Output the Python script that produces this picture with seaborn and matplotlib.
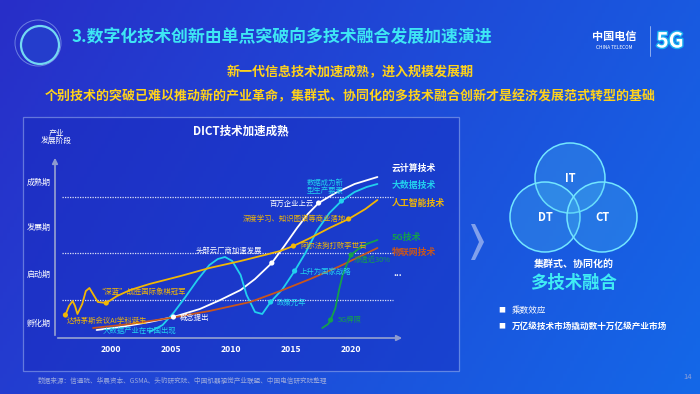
import numpy as np
import pandas as pd
import matplotlib
matplotlib.use("Agg")
import matplotlib.pyplot as plt
import matplotlib.patheffects as pe
import seaborn as sns
from matplotlib.patches import Rectangle, Circle, Polygon

sns.set_style("white")
plt.rcParams["font.family"] = ["Noto Sans CJK SC", "DejaVu Sans"]

# axis data
years = [2000, 2005, 2010, 2015, 2020]
stages = ["孵化期", "启动期", "发展期", "成熟期"]
stage_pos = [1.6, 6.5, 11.2, 15.7]
stage_lines = [3.8, 8.5, 14.1]

# curves (year, development level)
cloud_x = [1998.8, 2000.8, 2003.2, 2005.2, 2007.4, 2009.1, 2010.8, 2012.0, 2013.4, 2014.5, 2015.5, 2016.4, 2017.3, 2018.7, 2020.3, 2022.2]
cloud_y = [0.8, 1.1, 1.6, 2.1, 2.9, 3.8, 4.8, 5.9, 7.5, 9.3, 11.0, 12.4, 13.5, 14.5, 15.4, 16.1]

bigdata_x = [2003.2, 2004.3, 2005.2, 2006.2, 2007.2, 2008.2, 2008.9, 2009.5, 2010.1, 2010.8, 2011.3, 2012.0, 2012.6, 2013.3, 2014.3, 2015.3, 2016.2, 2017.2, 2018.2, 2019.2, 2020.3, 2021.3, 2022.2]
bigdata_y = [0.6, 1.3, 2.5, 4.1, 5.8, 7.3, 7.9, 8.1, 7.7, 6.3, 4.3, 2.6, 2.4, 3.6, 4.9, 6.7, 8.5, 10.8, 12.5, 13.7, 14.6, 15.1, 15.4]

ai_x = [1996.2, 1996.5, 1996.8, 1997.0, 1997.2, 1997.6, 1997.9, 1998.2, 1998.5, 1998.9, 1999.6, 2000.5, 2001.6, 2003.2, 2005.8, 2008.2, 2010.8, 2012.8, 2014.1, 2015.2, 2016.6, 2018.2, 2019.8, 2021.2, 2022.2]
ai_y = [2.3, 3.2, 3.7, 3.2, 2.4, 3.4, 4.7, 5.0, 4.4, 3.6, 3.5, 4.2, 4.8, 5.4, 6.2, 7.0, 7.7, 8.3, 8.7, 9.2, 10.0, 11.0, 11.9, 12.9, 13.8]

iot_x = [1998.5, 2001.6, 2004.9, 2008.2, 2011.6, 2014.1, 2016.6, 2019.1, 2022.2]
iot_y = [1.0, 1.4, 2.0, 2.7, 3.6, 4.7, 5.9, 7.2, 9.0]

g5_x = [2017.6, 2018.1, 2018.3, 2018.7, 2019.0, 2019.3, 2019.7, 2020.0, 2020.6, 2021.3, 2022.2]
g5_y = [1.0, 1.4, 1.8, 3.0, 4.8, 6.3, 7.5, 8.3, 8.9, 9.4, 9.8]

# milestone markers
ev_tech = ["AI", "AI", "AI", "AI", "云计算", "云计算", "云计算", "大数据", "大数据", "大数据", "5G", "5G"]
ev_x = [1996.2, 1999.6, 2015.2, 2019.8, 2005.2, 2013.4, 2017.3, 2013.3, 2015.3, 2019.2, 2018.3, 2020.0]
ev_y = [2.3, 3.5, 9.2, 11.9, 2.1, 7.5, 13.5, 3.6, 6.7, 13.7, 1.8, 8.3]

tech_names = ["云计算技术", "大数据技术", "人工智能技术", "5G技术", "物联网技术"]
colors = {"云计算": "#ffffff", "大数据": "#22d0ee", "AI": "#f2b705", "物联网": "#c9561c", "5G": "#14a04c"}

frames = []
for name, xs, ys in [("云计算", cloud_x, cloud_y), ("大数据", bigdata_x, bigdata_y),
                     ("AI", ai_x, ai_y), ("物联网", iot_x, iot_y), ("5G", g5_x, g5_y)]:
    frames.append(pd.DataFrame({"tech": name, "year": xs, "level": ys}))
curves = pd.concat(frames, ignore_index=True)
events = pd.DataFrame({"tech": ev_tech, "year": ev_x, "level": ev_y})

fig = plt.figure(figsize=(7, 3.94), dpi=100)

# background (pixel coordinates)
bg = fig.add_axes([0, 0, 1, 1], zorder=0)
bg.set_xlim(0, 700)
bg.set_ylim(394, 0)
bg.axis("off")
gx, gy = np.meshgrid(np.linspace(0, 1, 200), np.linspace(0, 1, 120))
t = np.clip(0.75 * gx + 0.25 * gy, 0, 1)[..., None]
c0 = np.array([40, 46, 200]) / 255
c1 = np.array([20, 104, 232]) / 255
bg.imshow(c0 * (1 - t) + c1 * t, extent=[0, 700, 394, 0], aspect="auto")
bg.add_patch(Rectangle((23, 117), 436, 254, facecolor=(0.09, 0.16, 0.74), alpha=0.45,
                       edgecolor=(0.72, 0.80, 0.96), lw=0.9))
# title badge ring
bg.add_patch(Circle((40, 45), 19, facecolor=(0.14, 0.24, 0.80), edgecolor=(0.45, 0.85, 0.95), lw=1.6))
bg.add_patch(Circle((38, 43), 23, facecolor="none", edgecolor=(0.6, 0.7, 0.95), lw=0.7, alpha=0.6))
bg.set_xlim(0, 700)
bg.set_ylim(394, 0)

# main chart
ax = fig.add_axes([55 / 700, (394 - 338) / 394, 350 / 700, 183 / 394], zorder=2)
ax.patch.set_alpha(0)
ax.set_xlim(1995.33, 2024.5)
ax.set_ylim(0, 18.3)
ax.hlines(stage_lines, 1995.9, 2023.5, colors="white", linestyles=(0, (1, 1)), lw=0.9, alpha=0.85)
sns.lineplot(data=curves, x="year", y="level", hue="tech", palette=colors, sort=False,
             estimator=None, legend=False, lw=1.3, ax=ax)
sns.scatterplot(data=events, x="year", y="level", hue="tech", palette=colors, legend=False,
                s=14, edgecolor="none", ax=ax, zorder=4)
for s in ax.spines.values():
    s.set_visible(False)
ax.annotate("", xy=(1, 0), xytext=(0, 0), xycoords="axes fraction",
            arrowprops=dict(arrowstyle="-|>", color="#8d9ad0", lw=1.3, mutation_scale=8))
ax.annotate("", xy=(0, 1), xytext=(0, 0), xycoords="axes fraction",
            arrowprops=dict(arrowstyle="-|>", color="#8d9ad0", lw=1.3, mutation_scale=8))
ax.set_xticks(years)
ax.set_xticklabels([str(y) for y in years], color="white", fontsize=6.2, fontweight="bold")
ax.set_yticks(stage_pos)
ax.set_yticklabels(stages, color="white", fontsize=5.8)
ax.tick_params(length=0, pad=5)
ax.tick_params(axis="y", pad=3)
ax.set_xlabel("")
ax.set_ylabel("")

# overlay text (pixel coordinates)
ov = fig.add_axes([0, 0, 1, 1], zorder=3)
ov.set_xlim(0, 700)
ov.set_ylim(394, 0)
ov.axis("off")

ov.text(72, 37, "3.数字化技术创新由单点突破向多技术融合发展加速演进", color="#3ee6f4",
        fontsize=12.2, fontweight="bold", va="center")
ov.text(350, 72, "新一代信息技术加速成熟，进入规模发展期", color="#ffd21a",
        fontsize=9.4, fontweight="bold", ha="center", va="center")
ov.text(350, 96, "个别技术的突破已难以推动新的产业革命，集群式、协同化的多技术融合创新才是经济发展范式转型的基础",
        color="#ffd21a", fontsize=9.35, fontweight="bold", ha="center", va="center")

# logo
ov.text(614, 36, "中国电信", color="white", fontsize=8, fontweight="bold", ha="center", va="center")
ov.text(614, 47, "CHINA TELECOM", color="white", fontsize=3.4, ha="center", va="center")
ov.plot([650, 650], [26, 56], color="white", lw=0.6, alpha=0.6)
ov.text(670, 41, "5G", color="white", fontsize=15, fontweight="bold", ha="center", va="center",
        path_effects=[pe.withStroke(linewidth=2, foreground="#1ab0f0")])

# chart texts
ov.text(241, 131, "DICT技术加速成熟", color="white", fontsize=8.3, fontweight="bold", ha="center", va="center")
ov.text(56, 138, "产业\n发展阶段", color="white", fontsize=5.6, ha="center", va="center", linespacing=1.1)

lab_y = [168, 185, 203, 237, 252]
lab_c = ["#ffffff", "#22d0ee", "#f2b705", "#14a04c", "#c9561c"]
for name, yy, cc in zip(tech_names, lab_y, lab_c):
    ov.text(392, yy, name, color=cc, fontsize=6.4, fontweight="bold", va="center")
ov.text(393, 274, "...", color="white", fontsize=6.4, fontweight="bold", va="center")

gold, cyan, grn = "#f2b705", "#22d0ee", "#14a04c"
fs = 5.3
ov.text(67, 321, "达特茅斯会议AI学科诞生", color=gold, fontsize=fs, va="center")
ov.text(97, 292, "“深蓝”战胜国际象棋冠军", color=gold, fontsize=fs, va="center")
ov.text(103, 331, "大数据产业在中国出现", color=cyan, fontsize=fs, va="center")
ov.text(180, 318, "概念提出", color="white", fontsize=fs, va="center")
ov.text(196, 251, "头部云厂商加速发展", color="white", fontsize=fs, va="center")
ov.text(277, 303, "政策元年", color=cyan, fontsize=fs, va="center")
ov.text(300, 272, "上升为国家战略", color=cyan, fontsize=fs, va="center")
ov.text(300, 246, "阿尔法狗打败李世石", color=gold, fontsize=fs, va="center")
ov.text(346, 219, "深度学习、知识图谱等商业落地", color=gold, fontsize=fs, va="center", ha="right")
ov.text(314, 204, "百万企业上云", color="white", fontsize=fs, va="center", ha="right")
ov.text(325, 187, "数据成为新\n型生产要素", color=cyan, fontsize=fs, va="center", ha="center", linespacing=1.05)
ov.text(338, 320, "5G牌照", color=grn, fontsize=fs, va="center")
ov.text(354, 260, "渗透近30%", color=grn, fontsize=fs, va="center")

# right side: venn
for cx, cy, lab in [(570, 178, "IT"), (545, 217, "DT"), (602, 217, "CT")]:
    ov.add_patch(Circle((cx, cy), 35, facecolor=(0.3, 0.78, 0.95), alpha=0.25,
                        edgecolor="none"))
    ov.add_patch(Circle((cx, cy), 35, facecolor="none", edgecolor=(0.45, 0.9, 1.0), lw=1.1))
    ov.text(cx, cy, lab, color="white", fontsize=8, fontweight="bold", ha="center", va="center")
ov.add_patch(Polygon([[471, 224], [475, 224], [484, 242], [475, 260], [471, 260], [479, 242]],
                     closed=True, facecolor="white", alpha=0.45, edgecolor="none"))
ov.text(574, 264, "集群式、协同化的", color="white", fontsize=7.2, fontweight="bold", ha="center", va="center")
ov.text(574, 283, "多技术融合", color="#40ecf4", fontsize=12.5, fontweight="bold", ha="center", va="center")
ov.text(498, 310, "■", color="white", fontsize=5, va="center")
ov.text(512, 310, "乘数效应", color="white", fontsize=6.2, va="center")
ov.text(498, 326, "■", color="white", fontsize=5, va="center")
ov.text(512, 326, "万亿级技术市场撬动数十万亿级产业市场", color="white", fontsize=6.2,
        fontweight="bold", va="center")

ov.text(38, 381, "数据来源：信通院、华晨资本、GSMA、头豹研究院、中国机器视觉产业联盟、中国电信研究院整理",
        color="#9aa8dc", fontsize=4.8, va="center")
ov.text(688, 377, "14", color="#8fa2d8", fontsize=5.5, ha="center", va="center")

fig.savefig("out.png", dpi=100)
